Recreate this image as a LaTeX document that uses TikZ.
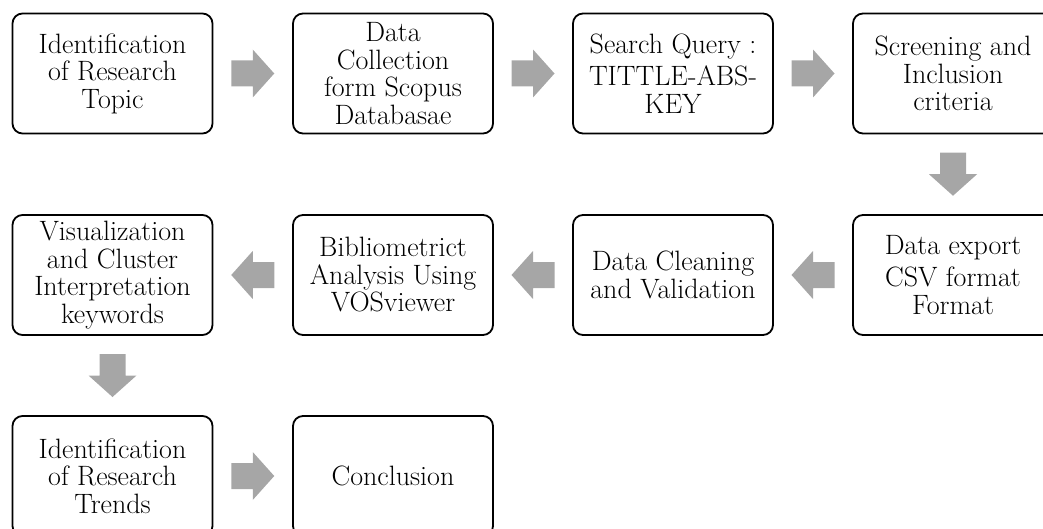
\documentclass[tikz,border=0pt]{standalone}
\usepackage{fontspec}
\usetikzlibrary{calc}
\definecolor{arrgray}{RGB}{166,166,166}
\tikzset{
  stepbox/.style={draw=black, line width=1.8pt, rounded corners=10pt,
    minimum width=200pt, minimum height=120pt, inner sep=0pt,
    align=center, font=\fontsize{28}{27.5}\selectfont},
  blockarrow/.pic={\fill[arrgray] (-21.5,-13) -- (0,-13) -- (0,-24) -- (21.5,0) -- (0,24) -- (0,13) -- (-21.5,13) -- cycle;}
}
\begin{document}
\begin{tikzpicture}[x=1pt,y=-1pt]
\useasboundingbox (0,0) rectangle (1043,529);
\clip (0,0) rectangle (1043,529);
% row 1
\node[stepbox] (b1) at (112.5,73.5) {Identification\\of Research\\Topic};
\node[stepbox] (b2) at (393,73.5) {Data\\Collection\\form Scopus\\Databasae};
\node[stepbox] (b3) at (673,73.5) {Search Query :\\[5pt]TITTLE-ABS-\\KEY};
\node[stepbox] (b4) at (953,73.5) {Screening and\\Inclusion\\criteria};
% row 2
\node[stepbox] (b5) at (953,275) {Data export\\[5pt]CSV format\\Format};
\node[stepbox] (b6) at (673,275) {Data Cleaning\\and Validation};
\node[stepbox] (b7) at (393,275) {Bibliometrict\\Analysis Using\\VOSviewer};
\node[stepbox] (b8) at (112.5,275) {Visualization\\and Cluster\\Interpretation\\keywords};
% row 3
\node[stepbox] (b9) at (112.5,476) {Identification\\of Research\\Trends};
\node[stepbox] (b10) at (393,476) {Conclusion};
% arrows
\pic at ($(b1.east)!0.5!(b2.west)$) {blockarrow};
\pic at ($(b2.east)!0.5!(b3.west)$) {blockarrow};
\pic at ($(b3.east)!0.5!(b4.west)$) {blockarrow};
\pic[rotate=-90] at ($(b4.south)!0.5!(b5.north)$) {blockarrow};
\pic[rotate=180] at ($(b5.west)!0.5!(b6.east)$) {blockarrow};
\pic[rotate=180] at ($(b6.west)!0.5!(b7.east)$) {blockarrow};
\pic[rotate=180] at ($(b7.west)!0.5!(b8.east)$) {blockarrow};
\pic[rotate=-90] at ($(b8.south)!0.5!(b9.north)$) {blockarrow};
\pic at ($(b9.east)!0.5!(b10.west)$) {blockarrow};
\end{tikzpicture}
\end{document}
